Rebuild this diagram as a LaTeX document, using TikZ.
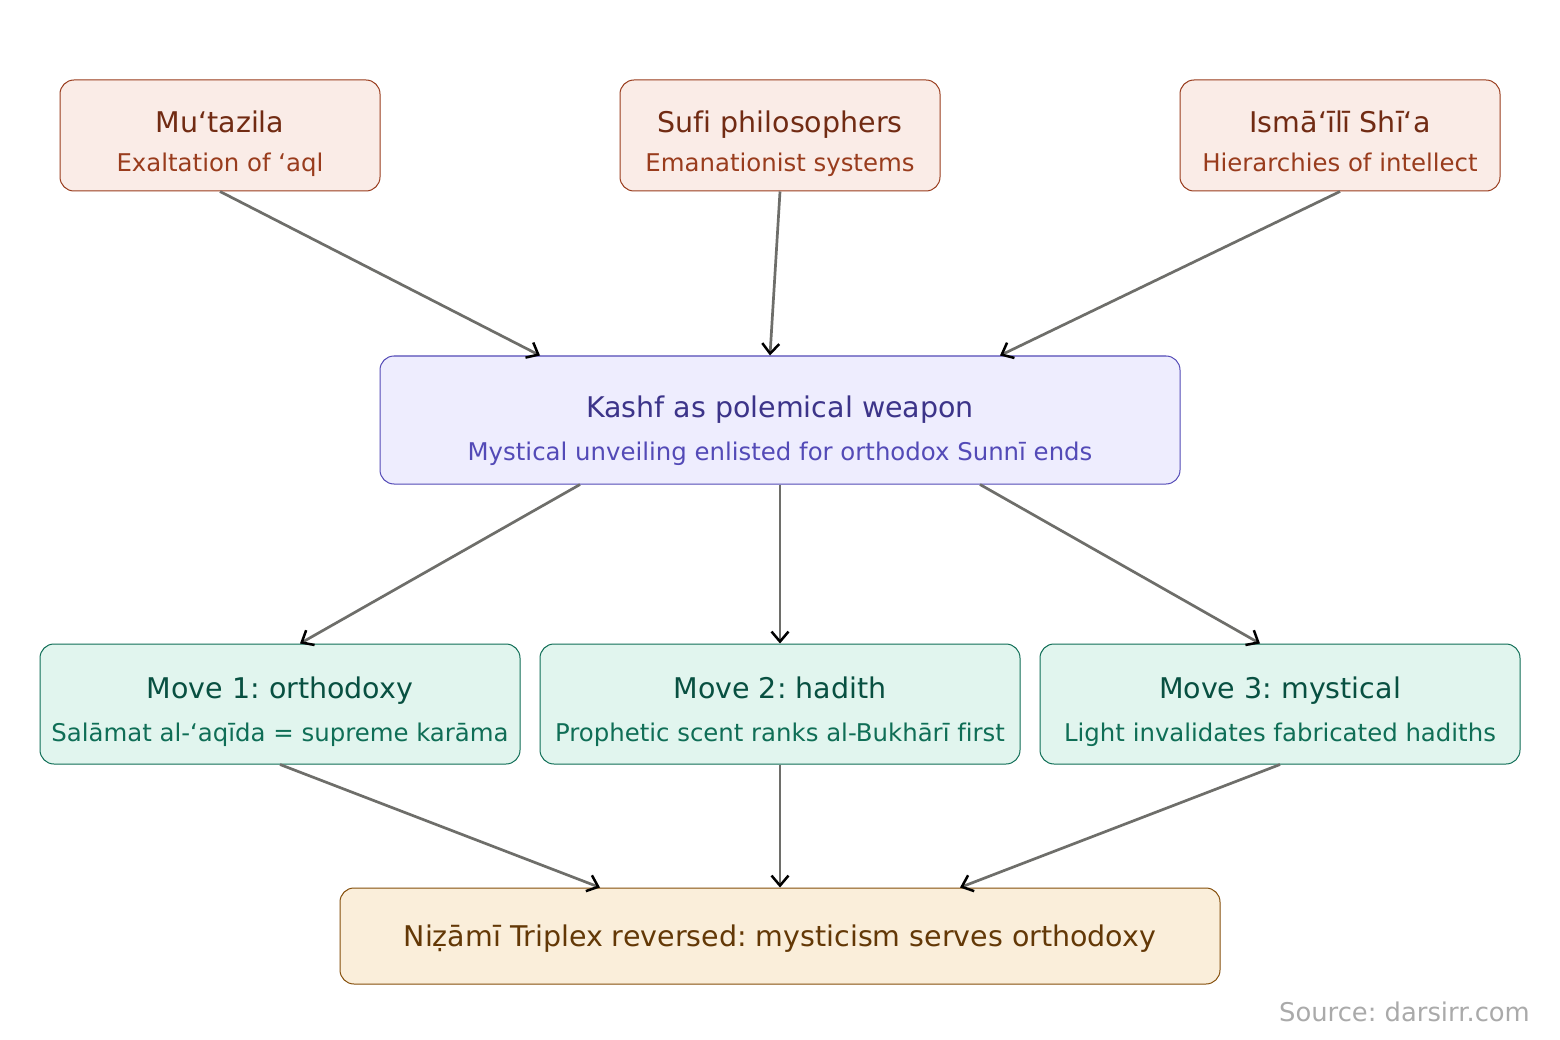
\documentclass[tikz,border=0pt]{standalone}
\usepackage{fontspec}
\setmainfont[Ligatures={NoCommon}]{DejaVu Sans}
\frenchspacing
\usetikzlibrary{arrows.meta,calc}
\definecolor{srcfill}{HTML}{FAECE7}
\definecolor{srcline}{HTML}{993C1D}
\definecolor{srctitle}{HTML}{712B13}
\definecolor{srcsub}{HTML}{993C1D}
\definecolor{hubfill}{HTML}{EEEDFE}
\definecolor{hubline}{HTML}{534AB7}
\definecolor{hubtitle}{HTML}{3C3489}
\definecolor{hubsub}{HTML}{534AB7}
\definecolor{movefill}{HTML}{E1F5EE}
\definecolor{moveline}{HTML}{0F6E56}
\definecolor{movetitle}{HTML}{085041}
\definecolor{movesub}{HTML}{0F6E56}
\definecolor{endfill}{HTML}{FAEEDA}
\definecolor{endline}{HTML}{854F0B}
\definecolor{endtitle}{HTML}{633806}
\definecolor{connline}{HTML}{6E6E6A}
\definecolor{srccol}{HTML}{AAAAAA}
\tikzset{
  boxbase/.style={rectangle, rounded corners=14pt, line width=1pt, inner sep=0pt},
  srcbox/.style={boxbase, draw=srcline, fill=srcfill, minimum width=320pt, minimum height=111pt},
  hubbox/.style={boxbase, draw=hubline, fill=hubfill, minimum width=800pt, minimum height=128pt},
  movebox/.style={boxbase, draw=moveline, fill=movefill, minimum width=480pt, minimum height=120pt},
  endbox/.style={boxbase, draw=endline, fill=endfill, minimum width=880pt, minimum height=96pt},
  ttl/.style={anchor=base, inner sep=0pt, font=\fontsize{28.5}{32}\selectfont},
  sub/.style={anchor=base, inner sep=0pt, font=\fontsize{24.4}{28}\selectfont},
  credsty/.style={anchor=base east, inner sep=0pt, font=\fontsize{25.8}{30}\selectfont},
  conn/.style={draw=connline, line width=2.7pt, -{Straight Barb[black, length=10pt, width=17pt, line width=2.5pt]}}
}
\begin{document}
\begin{tikzpicture}[x=1pt,y=-1pt]
\useasboundingbox (0,0) rectangle (1560,1040);
\fill[white] (0,0) rectangle (1560,1040);

% top sources
\node[srcbox] (mut) at (220,135.5) {};
\node[ttl, text=srctitle] (mutT) at (220,133) {Mu‘tazila};
\node[sub, text=srcsub] (mutS) at (220,172) {Exaltation of ‘aql};

\node[srcbox] (sufi) at (780,135.5) {};
\node[ttl, text=srctitle] (sufiT) at (780,133) {Sufi philosophers};
\node[sub, text=srcsub] (sufiS) at (780,172) {Emanationist systems};

\node[srcbox] (ism) at (1340,135.5) {};
\node[ttl, text=srctitle] (ismT) at (1340,133) {Ismā‘īlī Shī‘a};
\node[sub, text=srcsub] (ismS) at (1340,172) {Hierarchies of intellect};

% hub
\node[hubbox] (hub) at (780,420) {};
\node[ttl, text=hubtitle] (hubT) at (780,417) {Kashf as polemical weapon};
\node[sub, text=hubsub] (hubS) at (780,460) {Mystical unveiling enlisted for orthodox Sunnī ends};

% moves
\node[movebox] (m1) at (280,704) {};
\node[ttl, text=movetitle] (m1T) at (280,698) {Move 1: orthodoxy};
\node[sub, text=movesub] (m1S) at (280,741) {Salāmat al-‘aqīda = supreme karāma};

\node[movebox] (m2) at (780,704) {};
\node[ttl, text=movetitle] (m2T) at (780,698) {Move 2: hadith};
\node[sub, text=movesub] (m2S) at (780,741) {Prophetic scent ranks al-Bukhārī first};

\node[movebox] (m3) at (1280,704) {};
\node[ttl, text=movetitle] (m3T) at (1280,698) {Move 3: mystical};
\node[sub, text=movesub] (m3S) at (1280,741) {Light invalidates fabricated hadiths};

% end
\node[endbox] (fin) at (780,936) {};
\node[ttl, text=endtitle] (finT) at (780,946) {Niẓāmī Triplex reversed: mysticism serves orthodoxy};

% source
\node[credsty, text=srccol] (credit) at (1530,1021) {Source: darsirr.com};

% connectors
\draw[conn] (mut.south) -- ($(hub.north)+(-240,0)$);
\draw[conn] (sufi.south) -- ($(hub.north)+(-10,0)$);
\draw[conn] (ism.south) -- ($(hub.north)+(220,0)$);
\draw[conn] ($(hub.south)+(-200,0)$) -- ($(m1.north)+(20,0)$);
\draw[conn] (hub.south) -- (m2.north);
\draw[conn] ($(hub.south)+(200,0)$) -- ($(m3.north)+(-20,0)$);
\draw[conn] (m1.south) -- ($(fin.north)+(-180,0)$);
\draw[conn] (m2.south) -- (fin.north);
\draw[conn] (m3.south) -- ($(fin.north)+(180,0)$);
\end{tikzpicture}
\end{document}
